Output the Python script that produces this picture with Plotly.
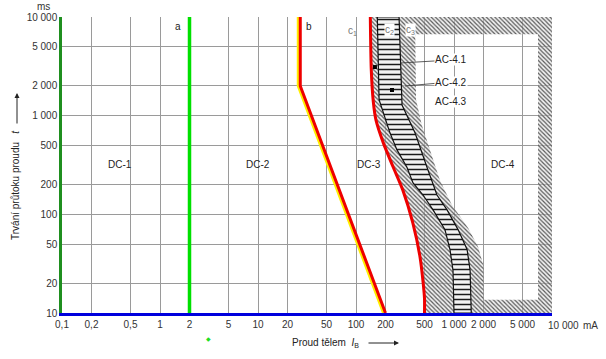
import plotly.graph_objects as go

# ---------------- data ----------------
x_tick_vals = [0.1, 0.2, 0.5, 1, 2, 5, 10, 20, 50, 100, 200, 500, 1000, 2000, 5000, 10000]
x_tick_text = ["0,1", "0,2", "0,5", "1", "2", "5", "10", "20", "50", "100", "200", "500",
               "1 000", "2 000", "5 000", "10 000"]
y_tick_vals = [10, 20, 50, 100, 200, 500, 1000, 2000, 5000, 10000]
y_tick_text = ["10", "20", "50", "100", "200", "500", "1 000", "2 000", "5 000", "10 000"]

curve_a_x = [2, 2]
curve_a_y = [10, 10000]
curve_b_x = [27, 27, 200]
curve_b_y = [10000, 2000, 10]
curve_c1_x = [140, 143, 150, 160, 190, 240, 300, 380, 450, 485, 500, 500]
curve_c1_y = [10000, 3000, 1400, 900, 530, 300, 177, 82, 37, 20, 14, 10]
curve_c2_left_x = [165, 172, 222, 262, 331, 382, 483, 611, 809, 910, 977, 1000]
curve_c2_left_y = [10000, 1450, 670, 450, 300, 208, 157, 111, 70, 44, 27, 10]
curve_c2_right_x = [275, 295, 400, 530, 670, 850, 1100, 1360, 1460, 1500]
curve_c2_right_y = [10000, 1280, 670, 300, 157, 111, 70, 44, 27, 10]
curve_c3_x = [400, 410, 470, 570, 720, 950, 1390, 1760, 2000, 2000]
curve_c3_y = [10000, 1450, 800, 450, 220, 125, 73, 47, 30, 10]
# limits of the hatched frame around zone DC-4
frame_x_inner = 7200
frame_x_outer = 10000
frame_y_top_inner = 6700
frame_y_top = 10000
frame_y_bottom_inner = 13.6
frame_y_bottom = 10
# marked points AC-4.1 / AC-4.2
dot_x = [156, 233]
dot_y = [3110, 1820]

FONT = "Liberation Sans, Arial, sans-serif"

# ------------- geometry helpers (pixel -> paper) -------------
L, R, T, B = 62, 552, 17, 313
def px(x):
    return (x - L) / (R - L)
def py(y):
    return (B - y) / (B - T)

fig = go.Figure()

# hatched zone: band c1..c3 plus frame around DC-4
hx = list(curve_c1_x) + list(reversed(curve_c3_x)) + [None]
hy = list(curve_c1_y) + list(reversed(curve_c3_y)) + [None]
hx += [curve_c3_x[0], frame_x_outer, frame_x_outer, curve_c3_x[0], None]
hy += [frame_y_top, frame_y_top, frame_y_top_inner, frame_y_top_inner, None]
hx += [frame_x_inner, frame_x_outer, frame_x_outer, frame_x_inner, None]
hy += [frame_y_top_inner, frame_y_top_inner, frame_y_bottom_inner, frame_y_bottom_inner, None]
hx += [curve_c3_x[-1], frame_x_outer, frame_x_outer, curve_c3_x[-1]]
hy += [frame_y_bottom_inner, frame_y_bottom_inner, frame_y_bottom, frame_y_bottom]
fig.add_trace(go.Scatter(
    x=hx, y=hy, mode="lines", fill="toself", line=dict(width=0),
    fillcolor="rgba(0,0,0,0)",
    fillpattern=dict(shape="\\", fgcolor="#5a5a5a", bgcolor="rgba(225,225,225,0.45)",
                     size=3, solidity=0.4, fillmode="replace"),
    hoverinfo="skip", showlegend=False))

# ladder band c2
lx = list(curve_c2_left_x) + list(reversed(curve_c2_right_x))
ly = list(curve_c2_left_y) + list(reversed(curve_c2_right_y))
fig.add_trace(go.Scatter(
    x=lx + [lx[0]], y=ly + [ly[0]], mode="lines", fill="toself",
    line=dict(width=1.2, color="#111111"),
    fillcolor="white",
    fillpattern=dict(shape="-", fgcolor="#1a1a1a", bgcolor="#f2f2f2", size=5, solidity=0.3,
                     fillmode="replace"),
    hoverinfo="skip", showlegend=False))

# curve a
fig.add_trace(go.Scatter(x=curve_a_x, y=curve_a_y, mode="lines",
                         line=dict(color="#00e000", width=3.5), showlegend=False))
# curve b (yellow edge + red)
shift = 10 ** (-2 / 98)
fig.add_trace(go.Scatter(x=[v * shift for v in curve_b_x], y=curve_b_y, mode="lines",
                         line=dict(color="#ffee00", width=3), showlegend=False))
fig.add_trace(go.Scatter(x=curve_b_x, y=curve_b_y, mode="lines",
                         line=dict(color="#ee0000", width=3), showlegend=False))
# curve c1
fig.add_trace(go.Scatter(x=curve_c1_x, y=curve_c1_y, mode="lines",
                         line=dict(color="#ee0000", width=3, shape="spline", smoothing=0.6),
                         showlegend=False))
# dots
fig.add_trace(go.Scatter(x=dot_x, y=dot_y, mode="markers",
                         marker=dict(color="black", size=4, symbol="square"), showlegend=False))

ann = []
def text(x, y, s, size=10, color="#222222", bg=None, **kw):
    d = dict(x=px(x), y=py(y), xref="paper", yref="paper", text=s, showarrow=False,
             font=dict(family=FONT, size=size, color=color), xanchor="center", yanchor="middle")
    if bg:
        d["bgcolor"] = bg
        d["borderpad"] = 0
    d.update(kw)
    ann.append(d)

text(178, 27, "a")
text(309, 27, "b")
text(352, 31, "c<sub>1</sub>", color="#777777")
text(389, 30, "c<sub>2</sub>", color="#777777", bg="white")
text(410, 30, "c<sub>3</sub>", color="#777777", bg="white")
text(120, 164, "DC-1")
text(258, 164, "DC-2")
text(369, 164, "DC-3")
text(503, 164, "DC-4")
text(451, 101, "AC-4.3", bg="white")
text(43, 6, "ms", color="#333333")
text(590, 325, "mA", color="#333333")
# last x tick label sits right of the axis end in the reference
text(563, 325, x_tick_text[-1], color="#333333")
text(325, 343, "Proud tělem  <i>I</i><sub>B</sub>", color="#222222")
text(15, 185, "Trvání průtoku proudu   <i>t</i>", color="#222222", textangle=-90)
text(208, 339, "◆", size=6, color="#22dd22")

# leader lines for AC-4.1 / AC-4.2
for (hxp, hyp, tx, ty, s) in [(400, 63, 451, 60, "AC-4.1"), (405, 86, 451, 82, "AC-4.2")]:
    ann.append(dict(x=px(hxp), y=py(hyp), xref="paper", yref="paper", text=s,
                    showarrow=True, arrowhead=0, arrowwidth=0.8, arrowcolor="#333333",
                    ax=tx - hxp, ay=ty - hyp, bgcolor="white", borderpad=0,
                    font=dict(family=FONT, size=10, color="#222222")))
# axis arrows
ann.append(dict(x=px(17), y=py(93), xref="paper", yref="paper", text="", showarrow=True,
                arrowhead=2, arrowsize=1, arrowwidth=1, arrowcolor="#222222", ax=0, ay=32))
ann.append(dict(x=px(399), y=py(343), xref="paper", yref="paper", text="", showarrow=True,
                arrowhead=2, arrowsize=1, arrowwidth=1, arrowcolor="#222222", ax=-32, ay=0))

fig.update_layout(
    width=606, height=359,
    margin=dict(l=L, r=606 - R, t=T, b=359 - B),
    paper_bgcolor="white", plot_bgcolor="white",
    annotations=ann, showlegend=False,
    xaxis=dict(type="log", range=[-1, 4], tickvals=x_tick_vals,
               ticktext=x_tick_text[:-1] + [""],
               tickangle=0, automargin=False,
               showgrid=True, gridcolor="#9a9a9a", gridwidth=1, zeroline=False,
               showline=True, linecolor="#0000dd", linewidth=2.5, ticks="",
               tickfont=dict(family=FONT, size=10, color="#333333")),
    yaxis=dict(type="log", range=[1, 4], tickvals=y_tick_vals, ticktext=y_tick_text,
               automargin=False,
               showgrid=True, gridcolor="#9a9a9a", gridwidth=1, zeroline=False,
               showline=True, linecolor="#1f8f1f", linewidth=2.5, ticks="",
               tickfont=dict(family=FONT, size=10, color="#333333")),
)

fig.write_html("out.html", config={"displayModeBar": False},
               post_script="document.body.style.margin='0';")
